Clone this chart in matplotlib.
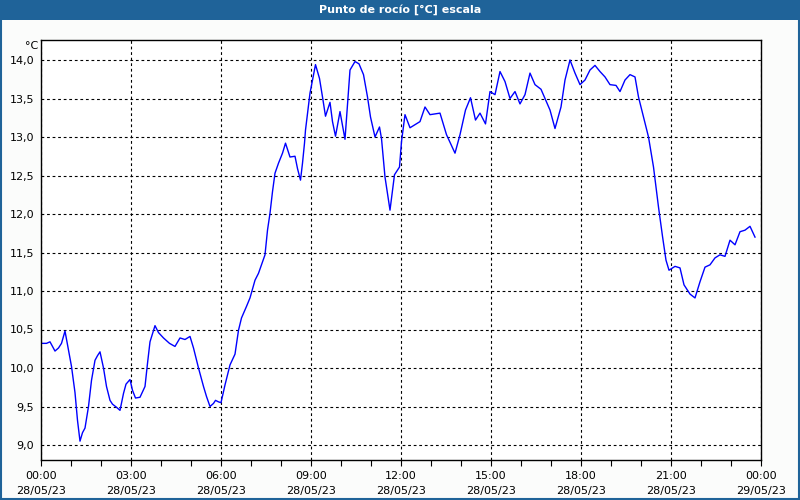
import matplotlib
matplotlib.use("Agg")
import matplotlib.pyplot as plt
from matplotlib.patches import Rectangle
import numpy as np

# time in minutes since 28/05/23 00:00, dew point in °C
minutes = [0, 11, 18, 28, 35, 41, 48, 55, 61, 68, 73, 78, 83, 88, 95, 101, 108, 113, 118,
           125, 131, 138, 143, 151, 158, 165, 170, 178, 183, 189, 198, 208, 213, 218, 228,
           235, 245, 257, 268, 278, 288, 298, 305, 315, 325, 331, 338, 345, 349, 355, 360,
           368, 378, 388, 395, 401, 411, 418, 428, 435, 448, 453, 458, 463, 468, 475, 483,
           489, 498, 508, 513, 519, 523, 527, 529, 538, 549, 557, 563, 569, 578, 583, 589,
           598, 608, 618, 628, 636, 645, 653, 659, 668, 677, 681, 688, 698, 707, 717, 721,
           728, 738, 748, 758, 768, 778, 798, 811, 828, 838, 849, 859, 869, 878, 889, 898,
           908, 918, 928, 938, 948, 958, 968, 978, 988, 1000, 1018, 1028, 1040, 1048, 1058,
           1068, 1078, 1088, 1098, 1108, 1118, 1128, 1138, 1150, 1158, 1168, 1178, 1188,
           1195, 1205, 1215, 1225, 1235, 1243, 1250, 1256, 1268, 1278, 1286, 1298, 1308,
           1318, 1328, 1338, 1348, 1358, 1368, 1378, 1388, 1398, 1408, 1418, 1428]
dew_point = [10.32, 10.32, 10.34, 10.22, 10.26, 10.32, 10.48, 10.23, 10.02, 9.68, 9.32, 9.05,
             9.16, 9.22, 9.50, 9.84, 10.10, 10.16, 10.21, 10.00, 9.76, 9.58, 9.53, 9.49, 9.45,
             9.67, 9.79, 9.85, 9.71, 9.61, 9.62, 9.76, 10.06, 10.34, 10.55, 10.46, 10.39,
             10.32, 10.28, 10.39, 10.37, 10.41, 10.26, 10.00, 9.76, 9.63, 9.50, 9.54, 9.58,
             9.56, 9.55, 9.78, 10.04, 10.18, 10.49, 10.65, 10.80, 10.91, 11.14, 11.23, 11.47,
             11.79, 12.01, 12.29, 12.53, 12.66, 12.79, 12.92, 12.74, 12.75, 12.59, 12.44,
             12.66, 12.92, 13.09, 13.57, 13.94, 13.76, 13.52, 13.27, 13.45, 13.20, 13.01,
             13.33, 12.97, 13.87, 13.98, 13.95, 13.81, 13.52, 13.26, 13.00, 13.13, 12.98,
             12.48, 12.05, 12.51, 12.61, 12.94, 13.29, 13.12, 13.16, 13.20, 13.39, 13.29,
             13.31, 13.03, 12.79, 13.03, 13.35, 13.51, 13.22, 13.31, 13.17, 13.59, 13.55,
             13.85, 13.72, 13.50, 13.59, 13.43, 13.55, 13.83, 13.68, 13.62, 13.35, 13.11,
             13.39, 13.74, 14.00, 13.83, 13.68, 13.74, 13.87, 13.93, 13.85, 13.78, 13.68,
             13.67, 13.59, 13.74, 13.81, 13.78, 13.52, 13.26, 13.00, 12.61, 12.09, 11.71,
             11.40, 11.27, 11.32, 11.30, 11.08, 10.96, 10.91, 11.12, 11.31, 11.34, 11.43,
             11.47, 11.45, 11.66, 11.60, 11.77, 11.79, 11.84, 11.70]

x_tick_hours = [0, 3, 6, 9, 12, 15, 18, 21, 24]
x_tick_labels = ["00:00\n28/05/23", "03:00\n28/05/23", "06:00\n28/05/23", "09:00\n28/05/23",
                 "12:00\n28/05/23", "15:00\n28/05/23", "18:00\n28/05/23", "21:00\n28/05/23",
                 "00:00\n29/05/23"]
y_ticks = [9.0, 9.5, 10.0, 10.5, 11.0, 11.5, 12.0, 12.5, 13.0, 13.5, 14.0]
title = "Punto de rocío [°C] escala"
unit = "°C"

hours = np.array(minutes) / 60.0

fig = plt.figure(figsize=(8, 5), dpi=100, facecolor="#fbfcfb")
ax = fig.add_axes([41/800, 40/500, 720/800, 420/500])
ax.set_facecolor("white")

ax.plot(hours, dew_point, color="#0000ff", lw=1.0)

ax.set_xlim(0, 24)
ax.set_ylim(9.0 - 15/77, 14.0 + 20/77)

ax.set_xticks(x_tick_hours)
ax.set_xticklabels(x_tick_labels, fontsize=8, linespacing=1.6)
ax.set_xticks(np.arange(0, 25, 1), minor=True)
ax.set_yticks(y_ticks)
ax.set_yticklabels([f"{v:.1f}".replace(".", ",") for v in y_ticks], fontsize=8)

ax.tick_params(axis="x", which="both", direction="out", length=4, width=0.8, pad=4, colors="black")
ax.tick_params(axis="y", which="both", length=0, pad=5)

ax.grid(True, which="major", color="black", lw=0.8, linestyle=(0, (2.5, 2.5)))
for s in ax.spines.values():
    s.set_color("black")
    s.set_linewidth(1.0)

# title bar
fig.patches.append(Rectangle((0, 1 - 20/500), 1, 20/500, transform=fig.transFigure,
                             facecolor="#1f6399", edgecolor="none", zorder=0))
fig.text(0.5, 1 - 10/500, title, ha="center", va="center", color="white",
         fontsize=8, fontweight="bold")
# outer border
fig.patches.append(Rectangle((0.0008, 0.0015), 0.9984, 0.997, transform=fig.transFigure,
                             facecolor="none", edgecolor="#1f6399", lw=1.5, zorder=5))

fig.text(38/800, 1 - 46/500, unit, ha="right", va="center", fontsize=8)

fig.savefig("out.png", dpi=100, facecolor=fig.get_facecolor())
